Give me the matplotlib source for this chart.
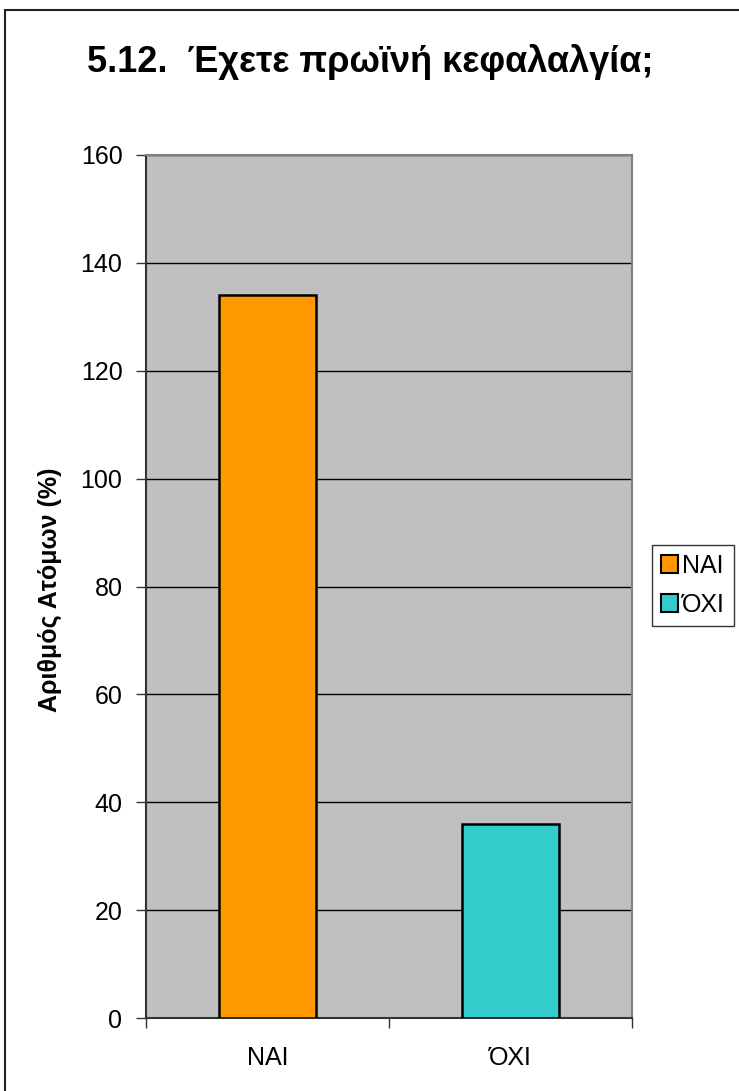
import matplotlib
matplotlib.use("Agg")
import matplotlib.pyplot as plt
from matplotlib.patches import Rectangle, Patch

plt.rcParams['font.family'] = ['Liberation Sans', 'DejaVu Sans']

categories = ["ΝΑΙ", "ΌΧΙ"]
values = [134, 36]
colors = ["#FF9900", "#33CCCC"]
yticks = [0, 20, 40, 60, 80, 100, 120, 140, 160]
title = "5.12.  Έχετε πρωϊνή κεφαλαλγία;"
ylabel = "Αριθμός Ατόμων (%)"

W, H = 739, 1091
fig = plt.figure(figsize=(W / 100, H / 100), dpi=100)

# outer chart frame (runs off the right and bottom edges)
fig.patches.append(Rectangle((5 / W, -0.05), 1.0, 1 - 10 / H + 0.05,
                             transform=fig.transFigure, fill=False,
                             edgecolor="#222222", linewidth=1.5))

left, right, top, bottom = 146, 632, 155, 1018
ax = fig.add_axes([left / W, 1 - bottom / H, (right - left) / W, (bottom - top) / H])
ax.set_facecolor("#C0C0C0")

x = [0.5, 1.5]
ax.bar(x, values, width=0.4, color=colors, edgecolor="black", linewidth=1.8, zorder=3)

ax.set_xlim(0, 2)
ax.set_ylim(0, 160)
ax.set_yticks(yticks)
ax.set_yticklabels([str(t) for t in yticks], fontsize=18)
ax.yaxis.grid(True, color="black", linewidth=1.0, zorder=1)
ax.set_axisbelow(True)

# category ticks at the boundaries, labels centered under the bars
ax.set_xticks([0, 1, 2])
ax.set_xticklabels([])
ax.set_xticks(x, minor=True)
ax.set_xticklabels(categories, minor=True, fontsize=18)
ax.tick_params(axis="x", which="minor", length=0, pad=20)
ax.tick_params(axis="x", which="major", length=7, width=1, color="#333333")
ax.tick_params(axis="y", length=7, width=1, pad=10, color="#333333")

for side in ("top", "right"):
    ax.spines[side].set_color("#808080")
    ax.spines[side].set_linewidth(1.5)
ax.spines["left"].set_color("#333333")
ax.spines["left"].set_linewidth(1.5)
ax.spines["bottom"].set_color("#333333")
ax.spines["bottom"].set_linewidth(1.5)

fig.text(50 / W, 1 - 590 / H, ylabel, rotation=90, ha="center", va="center",
         fontsize=18, fontweight="bold")

fig.text(370 / W, 1 - 62 / H, title, ha="center", va="center",
         fontsize=26, fontweight="bold")

handles = [Patch(facecolor=c, edgecolor="black", linewidth=1.5) for c in colors]
leg = fig.legend(handles, categories, loc="upper left",
                 bbox_to_anchor=(652 / W, 1 - 545 / H), fontsize=18,
                 frameon=True, fancybox=False, edgecolor="black",
                 handlelength=0.7, handleheight=0.7, handletextpad=0.15,
                 borderpad=0.35, labelspacing=0.6, borderaxespad=0)
leg.get_frame().set_linewidth(1.0)

fig.savefig("out.png", dpi=100)
